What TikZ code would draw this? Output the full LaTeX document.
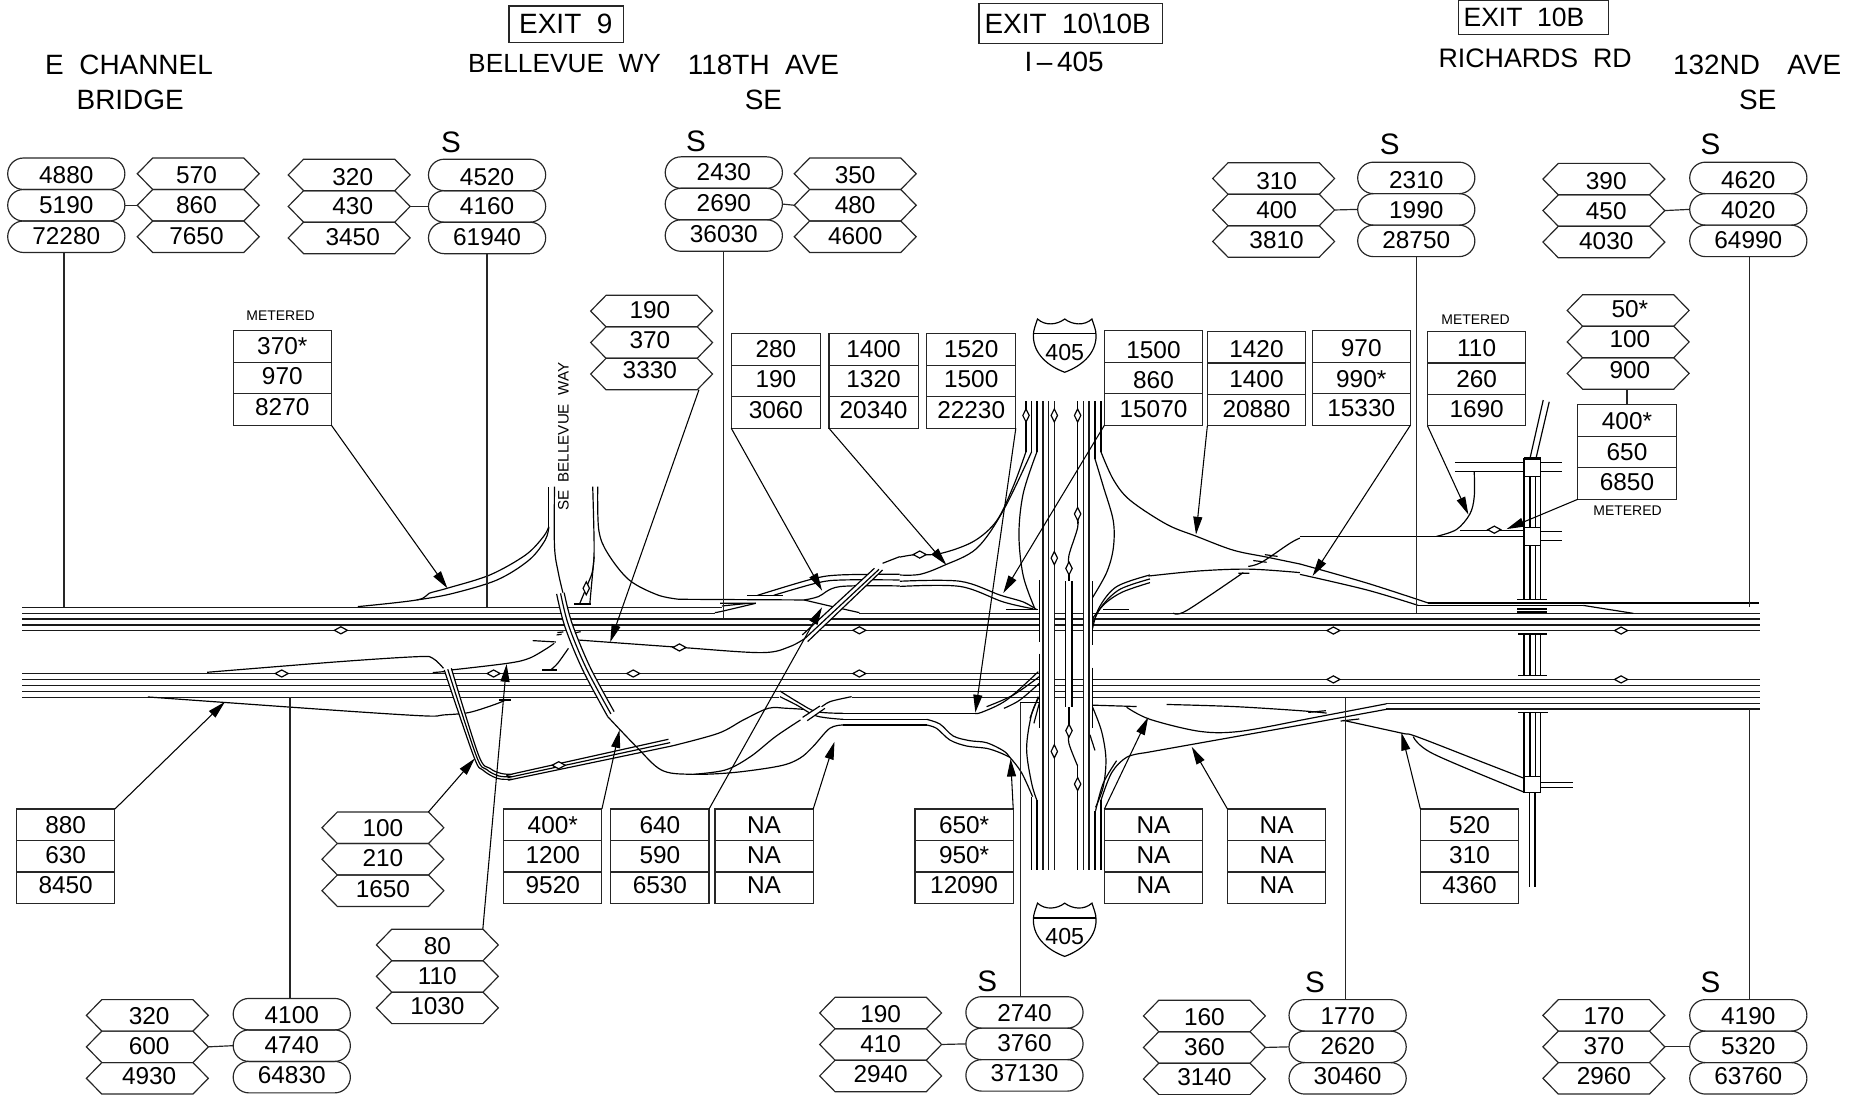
\documentclass[tikz,border=0pt]{standalone}
\usepackage{fontspec}
\setmainfont{Liberation Sans}
\usetikzlibrary{arrows.meta,shapes.misc,calc}
\tikzset{
 every path/.style={line width=0.5pt},
 cellbase/.style={draw=black!85,line width=0.5pt,inner sep=0pt,outer sep=0pt,minimum height=13.3pt,font=\fontsize{10.3}{12}\selectfont},
 boxcell/.style={cellbase,rectangle,minimum width=41.5pt},
 narrowcell/.style={cellbase,rectangle,minimum width=37.7pt},
 pillcell/.style={cellbase,rounded rectangle,minimum width=49.5pt},
 hexcell/.style={inner sep=0pt,outer sep=0pt,minimum height=13.3pt,minimum width=51.5pt,font=\fontsize{10.3}{12}\selectfont},
 hexline/.style={draw=black!85,line width=0.5pt},
 bigtext/.style={inner sep=0pt,font=\fontsize{11.8}{14}\selectfont},
 midtext/.style={inner sep=0pt,font=\fontsize{11.1}{14}\selectfont},
 smalltext/.style={inner sep=0pt,font=\fontsize{5.9}{7}\selectfont},
 sfont/.style={inner sep=0pt,font=\fontsize{12.5}{14}\selectfont},
 ar/.style={-{Triangle[length=7.5pt,width=3.8pt]},line width=0.45pt},
 lead/.style={line width=0.5pt,draw=black!85},
 road/.style={line width=0.5pt,draw=black},
 fwy/.style={line width=0.5pt,draw=black!90},
 zb/.style={shift={(287.2,371.7)},x=0.1508pt,y=-0.1408pt},
 zc/.style={shift={(760.3,253.4)},x=0.1408pt,y=-0.1458pt},
 zd/.style={shift={(1098.2,253.4)},x=0.1408pt,y=-0.1458pt},
 ze/.style={shift={(658.9,557.6)},x=0.1408pt,y=-0.1408pt},
 zf/.style={shift={(422.4,498.4)},x=0.1408pt,y=-0.1408pt},
 zg/.style={shift={(844.8,481.5)},x=0.1408pt,y=-0.1408pt},
}
% text offset inside a cell (positive = lower), box size unchanged
\newcommand\Tx[2]{\raisebox{\dimexpr -#1pt\relax}[\height][\depth]{#2}}
\newcommand\SetT[3]{\def\tyA{#1}\def\tyB{#2}\def\tyC{#3}}
\SetT{0.25}{-0.25}{-0.75}
\newcommand\StackThree[7]{%
 \node[#1] (#2a) at (#3,#4+13.3) {\Tx{\tyA}{#5}};
 \node[#1] (#2b) at (#3,#4+39.9) {\Tx{\tyB}{#6}};
 \node[#1] (#2c) at (#3,#4+66.5) {\Tx{\tyC}{#7}};
}
\newcommand\HexCell[2]{\draw[hexline] (#1-51.5,#2+13.3) -- (#1-38.5,#2) -- (#1+38.5,#2) -- (#1+51.5,#2+13.3) -- (#1+38.5,#2+26.6) -- (#1-38.5,#2+26.6) -- cycle;}
\newcommand\StackHex[7][0pt]{%
 \HexCell{#3}{#4}\HexCell{#3}{#4+26.6}\HexCell{#3}{#4+53.2}
 \node[hexcell] (#2a) at (#3,#4+13.3) {\hspace*{#1}\Tx{\tyA}{#5}};
 \node[hexcell] (#2b) at (#3,#4+39.9) {\hspace*{#1}\Tx{\tyB}{#6}};
 \node[hexcell] (#2c) at (#3,#4+66.5) {\hspace*{#1}\Tx{\tyC}{#7}};
}
\newcommand\DiaH[2]{\draw[road,fill=white] (#1-5.5,#2) -- (#1,#2-3) -- (#1+5.5,#2) -- (#1,#2+3) -- cycle;}
\newcommand\DiaV[2]{\draw[road,fill=white] (#1-2.7,#2) -- (#1,#2-5.5) -- (#1+2.7,#2) -- (#1,#2+5.5) -- cycle;}
\newcommand\Curve[1]{\draw[road] plot[smooth,tension=0.55] coordinates {#1};}
\newcommand\ShieldSign[3]{%
 \begin{scope}[shift={(#1,#2)}]
 \draw[road] (3.5,0) .. controls (10,6) and (20,5) .. (26.5,0) .. controls (33,5) and (43,6) .. (49.5,0) .. controls (51,5) and (53,9) .. (53,14) .. controls (53,30) and (40,40) .. (26.5,45) .. controls (13,40) and (0,30) .. (0,14) .. controls (0,9) and (2,5) .. (3.5,0) -- cycle;
 \draw[road] (0.3,12.5) -- (52.7,12.5);
 \node[inner sep=0pt,font=\fontsize{9.8}{12}\selectfont] (#3) at (26.5,28.5) {405};
 \end{scope}}
\begin{document}
\begin{tikzpicture}[x=0.5pt,y=-0.5pt]
\useasboundingbox (0,0) rectangle (1568,925);
% ---------- freeway mainline ----------
\draw[fwy] (19,513) -- (610,513);
\draw[fwy] (19,518) -- (604,518);
\draw[fwy] (726,518) -- (878,518);
\foreach \yy in {523,528,533,569,574,579,584} \draw[fwy] (19,\yy) -- (878,\yy);
\draw[fwy] (19,589) -- (658,589) (719.5,589) -- (878,589);
\foreach \yy in {518,523,528,533,574,579,584,589} {\draw[fwy] (923,\yy) -- (1487,\yy);}
\draw[fwy] (1171,594.5) -- (1487,594.5);
\draw[fwy] (1171,599) -- (1487,599);
\foreach \yy in {518,523,528,533,574,579,584,589} {\draw[fwy] (890.7,\yy) -- (900,\yy); \draw[fwy] (905.6,\yy) -- (915.2,\yy);}
% ---------- traced ramps, zoom B frame ----------
\begin{scope}[zb]
\Curve{(50,500)(215,480)(250,460)(300,445)(420,405)(520,345)(570,290)(585,260)}
\draw[road] (585,260) -- (585,140);
\Curve{(215,480)(310,462)(440,420)(530,360)(575,300)(585,262)}
\Curve{(601,140)(601,320)(612,400)(625,460)}
\Curve{(750,830)(830,920)(900,990)(980,1003)(1100,998)(1232,978)(1288,955)(1325,920)(1372,865)(1410,855)}
\Curve{(722,140)(725,270)(750,340)(810,420)(890,465)(950,478)}
\draw[road] (950,478) -- (1300,480);
\Curve{(1300,480)(1380,500)(1455,518)}
\Curve{(708,140)(712,320)(708,390)(695,430)(672,490)}
\Curve{(712,350)(706,420)(700,490)}
\draw[road] (655,492) -- (703,492);
\draw[road] (1070,498) -- (1145,490) (1065,490) -- (1165,490);
\Curve{(1050,518)(1070,514)(1165,490)}
\draw[road] (1140,466) -- (1240,466);
\Curve{(1170,466)(1320,418)(1400,405)(1568,403)}
\Curve{(1215,466)(1340,428)(1410,420)(1568,420)}
\Curve{(1300,480)(1340,470)(1400,440)(1568,438)}
\Curve{(665,600)(950,622)(1180,638)(1260,620)(1310,590)}
\Curve{(1520,370)(1568,350)}
% lower side ramps
\Curve{(-372,697)(0,665)(220,650)(260,655)(290,685)}
\draw[road] (260,698) -- (292,695);
\Curve{(312,690)(470,670)(530,655)(580,625)(600,610)}
\draw[road] (540,602) -- (605,606);
\Curve{(-538,771)(0,812)(240,828)(290,825)(360,818)(430,795)(465,780)}
\draw[road] (445,780) -- (480,780);
\Curve{(640,625)(610,670)(590,690)}
\draw[road] (567,690) -- (607,690);
% loop under
\Curve{(930,918)(1060,880)(1130,840)(1200,805)(1250,805)(1297,808)}
\Curve{(990,1003)(1080,990)(1150,950)(1220,890)(1290,840)}
% Bellevue Way over freeway
\fill[white] (607,462) -- (628,458) -- (650,550) -- (700,680) -- (768,815) -- (750,830) -- (680,690) -- (630,560) -- cycle;
\Curve{(607,462)(630,560)(680,690)(750,830)}
\Curve{(628,458)(650,550)(700,680)(768,815)}
\Curve{(618,460)(640,555)(690,685)(759,822)}
% E-W connector over
\fill[white] (292,690) -- (312,685) -- (388,945) -- (375,950) -- cycle;
\Curve{(292,690)(375,950)(400,990)(440,1015)(480,1018)(510,1012)(930,918)}
\Curve{(312,685)(388,945)(420,985)(450,1000)(480,1003)(500,998)(920,898)}
\Curve{(302,688)(382,948)(410,988)(445,1008)(480,1010)(505,1005)(925,908)}
% 118th ramp bridge
\fill[white] (1295,585) -- (1497,385) -- (1520,390) -- (1310,605) -- cycle;
\draw[road] (1295,585) -- (1497,385) (1310,605) -- (1520,390) (1303,595) -- (1510,388);
\end{scope}
% ---------- detail frames ----------
\begin{scope}[zf]
\draw[road] (172,128) -- (190,126) (170,135) -- (185,133) (225,129) -- (242,125);
\end{scope}
\begin{scope}[ze]
% crossing at bridge and lines on to I-405
\Curve{(0,93)(60,130)(110,155)(190,160)}
\draw[road] (190,160) -- (585,160);
\Curve{(585,160)(605,157)(680,120)(775,35)}
\Curve{(620,140)(700,105)(778,50)}
\Curve{(672,145)(720,120)(778,70)}
\Curve{(0,110)(50,135)(110,168)(190,178)}
\draw[road] (190,178) -- (440,178);
\Curve{(440,178)(480,192)(520,228)(570,242)(620,248)(670,272)(690,292)(725,338)(758,410)}
\draw[road] (190,195) -- (440,195);
\Curve{(440,195)(470,205)(510,240)(560,258)(620,265)(660,278)(690,292)}
\Curve{(120,145)(150,125)(215,110)}
\fill[white] (68,172) -- (120,138) -- (135,145) -- (82,182) -- cycle;
\draw[road] (68,172) -- (120,138) (82,182) -- (135,145);
\draw[road] (720,128) -- (778,128);
\draw[road] (750,175) -- (775,110) (762,190) -- (778,130);
\end{scope}
% ---------- I-405, zoom C frame ----------
\begin{scope}[zc]
\foreach \xx in {429,446,463,550,567} \draw[fwy] (\xx,293) -- (\xx,1652);
\draw[road] (378,293) -- (378,440);
\draw[road] (395,293) -- (395,440);
\draw[road] (411,293) -- (411,440);
\draw[road] (533,293) -- (533,650);
\draw[road] (585,293) -- (585,460);
\draw[road] (603,293) -- (603,440);
\draw[road] (533,1350) -- (533,1652);
\draw[road] (395,1440) -- (395,1652);
\draw[road] (411,1450) -- (411,1652);
\draw[road] (585,1480) -- (585,1652);
\draw[road] (603,1450) -- (603,1652);
% bridge edges
\draw[road] (419,812) -- (419,990) (419,1025) -- (419,1240);
\draw[road] (578,815) -- (578,1000) (578,1065) -- (578,1240);
\draw[road] (497,815) -- (497,1180) (516,815) -- (516,1180);
% median wiggle
\Curve{(533,620)(533,660)(507,740)(507,778)}
\draw[road] (507,778) -- (507,815);
\draw[road] (507,1180) -- (507,1248);
\Curve{(507,1248)(507,1285)(533,1350)}
% NW quadrant
\Curve{(0,745)(45,738)(120,735)(220,700)(290,640)(340,540)(378,440)}
\Curve{(0,797)(60,795)(130,770)(230,720)(310,610)(395,440)}
\Curve{(411,440)(370,560)(357,680)(370,800)(405,895)}
\Curve{(0,815)(180,815)(300,855)(370,875)(410,897)}
\Curve{(0,830)(180,830)(310,875)(400,895)}
\draw[road] (318,897) -- (415,897);
% NE quadrant
\Curve{(603,440)(640,520)(690,580)(800,650)(890,685)(1000,725)(1100,745)(1200,765)}
\Curve{(585,460)(610,540)(640,640)(640,720)(620,790)(578,862)}
\draw[road] (610,897) -- (688,897);
\Curve{(745,800)(900,785)(1050,780)(1200,790)}
\Curve{(820,907)(860,900)(1030,790)}
\draw[road] (1015,792) -- (1048,792) (1060,755) -- (1100,760) (1095,738) -- (1133,743);
\Curve{(1045,772)(1085,760)(1170,705)(1200,690)}
% SW quadrant
\Curve{(418,1150)(395,1200)(380,1300)(395,1400)(411,1450)}
% SE quadrant
\Curve{(578,1180)(605,1250)(618,1330)(610,1410)(587,1470)}
\draw[road] (570,1260) -- (585,1305);
\Curve{(735,1312)(680,1325)(635,1370)(603,1450)}
\Curve{(650,1335)(610,1400)(587,1480)}
\draw[road] (735,1312) -- (1200,1232);
\Curve{(680,1180)(750,1215)(900,1250)(1020,1250)(1200,1218)}
\draw[road] (578,1174) -- (710,1178);
\Curve{(800,1172)(1000,1178)(1200,1190)(1280,1197)}
\end{scope}
\begin{scope}[zg]
% three-line arc at the NE quadrant
\Curve{(278,175)(298,112)(350,50)(450,15)}
\Curve{(278,160)(306,108)(360,58)(450,27)}
\Curve{(278,145)(316,100)(368,66)(450,38)}
\end{scope}
% ---------- right side, zoom D frame ----------
\begin{scope}[zd]
\draw[road] (0,1218) -- (260,1170) (0,1232) -- (260,1186);
\draw[road] (25,1195) -- (78,1190) (122,1220) -- (178,1214);
\Curve{(130,1218)(305,1255)(350,1265)(550,1340)(670,1385)}
\Curve{(340,1265)(400,1315)(670,1425)}
\Curve{(0,765)(200,820)(385,878)}
\Curve{(0,795)(200,840)(355,885)}
\draw[road] (385,878) -- (1377,878);
\draw[road] (355,885) -- (850,885);
\draw[road] (850,885) -- (1000,908);
\draw[road] (0,685) -- (410,685);
\Curve{(410,685)(470,665)(510,620)(523,570)(523,498)}
\draw[road] (465,472) -- (672,472) (465,498) -- (672,498) (722,472) -- (785,472) (722,498) -- (785,498);
\draw[road] (480,667) -- (672,667) (410,685) -- (672,685);
\draw[road] (722,672) -- (785,672) (722,698) -- (785,698);
\foreach \xx in {672,690,706,722} {
 \draw[road] (\xx,512) -- (\xx,660);
 \draw[road] (\xx,712) -- (\xx,868);
 \draw[road] (\xx,968) -- (\xx,1088);
 \draw[road] (\xx,1195) -- (\xx,1380);}
\draw[road] (672,460) rectangle (722,512);
\draw[line width=1pt] (672,459) -- (722,459);
\draw[road] (672,660) rectangle (722,712);
\draw[road] (672,1380) rectangle (722,1427);
\draw[road] (652,868) -- (740,868) (655,968) -- (740,968) (655,1088) -- (740,1088) (655,1195) -- (743,1195);
\draw[line width=0.7pt] (652,895) -- (742,895) (652,905) -- (742,905);
\draw[road] (688,1427) -- (688,1700) (705,1427) -- (705,1700);
\draw[road] (723,1397) -- (820,1397) (723,1412) -- (820,1412);
\draw[road] (690,460) -- (730,290) (708,460) -- (748,295);
\end{scope}
% ---------- diamonds ----------
\DiaH{288}{532.5}\DiaH{238}{569}\DiaH{417}{569}\DiaH{535}{569}\DiaH{574}{547}\DiaH{472}{646.5}
\DiaH{726}{532.5}\DiaH{726}{569}\DiaH{777}{468.5}\DiaH{1126.5}{532.7}\DiaH{1369.5}{532.7}\DiaH{1126.5}{574}\DiaH{1369.5}{574}\DiaH{1262.4}{447.5}
\DiaV{866.8}{351}\DiaV{890.7}{351}\DiaV{910.4}{351}\DiaV{910.4}{434.2}\DiaV{890.7}{471.5}\DiaV{903.1}{480.2}\DiaV{903.1}{617.3}\DiaV{890.7}{634.8}\DiaV{910.4}{662.4}\DiaV{495.3}{497}
% ---------- headings ----------
\node[bigtext] (hA) at (109,55) {E\ \ CHANNEL};
\node[bigtext] (hB) at (110,84) {BRIDGE};
\draw[lead] (430,5) rectangle (527,36);
\node[bigtext] (hC) at (478,20.5) {EXIT\ \ 9};
\node[midtext] (hD) at (477,53.5) {BELLEVUE\ \ WY};
\node[bigtext] (hE) at (645,55) {118TH\ \ AVE};
\node[bigtext] (hF) at (645,84) {SE};
\draw[lead] (827,3) rectangle (982,37);
\node[bigtext] (hG) at (902,20) {EXIT\ \ 10\textbackslash 10B};
\node[bigtext] (hH) at (899,52) {I\,–\,405};
\draw[lead] (1232,0) rectangle (1359,29);
\node[inner sep=0pt,font=\fontsize{11.2}{14}\selectfont] (hI) at (1287.5,15) {EXIT\ \ 10B};
\node[inner sep=0pt,font=\fontsize{11.3}{14}\selectfont] (hJ) at (1297,49.5) {RICHARDS\ \ RD};
\node[bigtext] (hK) at (1484.5,55) {132ND\hspace{0.98em}AVE};
\node[bigtext] (hL) at (1485,84) {SE};
\node[sfont] (s1) at (381,120) {S};
\node[sfont] (s2) at (588,119) {S};
\node[sfont] (s3) at (1174,122) {S};
\node[sfont] (s4) at (1445,122) {S};
\node[sfont] (s5) at (834,829) {S};
\node[sfont] (s6) at (1111,830) {S};
\node[sfont] (s7) at (1445,830) {S};
\node[inner sep=0pt,rotate=90,font=\fontsize{6.4}{8}\selectfont] (sbw) at (476,369) {SE\ \ BELLEVUE\ \ WAY};
\ShieldSign{873}{269.5}{shA}
\ShieldSign{873}{763}{shB}
\node[smalltext] (m1) at (237,267) {METERED};
\node[smalltext] (m2) at (1246.6,270) {METERED};
\node[smalltext] (m3) at (1375,431.5) {METERED};
% ---------- count stacks ----------
\SetT{0.75}{0}{-0.4}
\StackThree{pillcell}{pa}{56}{133.5}{4880}{5190}{72280}
\StackHex[-1.5pt]{ha}{167.5}{133.5}{570}{860}{7650}
\StackHex[3pt]{hb}{295}{134.5}{320}{430}{3450}
\StackThree{pillcell}{pb}{411.5}{134.5}{4520}{4160}{61940}
\StackHex{hc}{722.5}{133.5}{350}{480}{4600}
\SetT{0}{-0.2}{-0.5}
\StackThree{pillcell}{pc}{611.5}{132.5}{2430}{2690}{36030}
\SetT{1}{0.15}{-0.5}
\StackHex[2.5pt]{hd}{1076}{137.5}{310}{400}{3810}
\StackThree{pillcell}{pd}{1196.5}{137}{2310}{1990}{28750}
\StackHex[2pt]{he}{1355}{138}{390}{450}{4030}
\StackThree{pillcell}{pe}{1477}{137}{4620}{4020}{64990}
\SetT{0}{-0.7}{-1.2}
\StackThree{boxcell}{ba}{238.5}{279.5}{370*}{970}{8270}
\StackThree{narrowcell}{bb}{655.5}{282}{280}{190}{3060}
\StackThree{narrowcell}{bc}{738}{282}{1400}{1320}{20340}
\StackThree{narrowcell}{bd}{820.5}{282}{1520}{1500}{22230}
\StackThree{boxcell}{bj}{55.5}{683.5}{880}{630}{8450}
\StackThree{boxcell}{bk}{467}{683.5}{400*}{1200}{9520}
\StackThree{boxcell}{bl}{557.5}{683.5}{640}{590}{6530}
\StackThree{boxcell}{bm}{645.5}{683.5}{NA}{NA}{NA}
\StackThree{boxcell}{bn}{814.5}{683.5}{650*}{950*}{12090}
\StackThree{boxcell}{bo}{974.5}{683.5}{NA}{NA}{NA}
\StackThree{boxcell}{bp}{1078.5}{683.5}{NA}{NA}{NA}
\StackThree{boxcell}{bq}{1241.5}{683.5}{520}{310}{4360}
\SetT{-0.4}{-1.2}{-1.5}
\StackHex[-1.5pt]{hf}{550.5}{249.5}{190}{370}{3330}
\StackHex[1.5pt]{hg}{1375.5}{249}{50*}{100}{900}
\SetT{1.5}{0.75}{0}
\StackThree{boxcell}{be}{974.5}{279.5}{1500}{860}{15070}
\SetT{0.85}{0.3}{-0.25}
\StackThree{boxcell}{bf}{1061.5}{280}{1420}{1400}{20880}
\SetT{0.7}{0.25}{-0.4}
\StackThree{boxcell}{bg}{1150}{279.5}{970}{990*}{15330}
\SetT{0.45}{0}{-0.6}
\StackThree{boxcell}{bh}{1247.5}{280}{110}{260}{1690}
\SetT{0.35}{0}{-0.75}
\StackThree{boxcell}{bi}{1374.5}{342}{400*}{650}{6850}
\SetT{0.35}{-0.3}{-0.75}
\StackHex{hh}{323.5}{686}{100}{210}{1650}
\StackHex{hi}{369.5}{785}{80}{110}{1030}
\StackHex[1.5pt]{hj}{124.5}{844.5}{320}{600}{4930}
\StackThree{pillcell}{pf}{246.5}{843.5}{4100}{4740}{64830}
\StackHex{hk}{744}{842.5}{190}{410}{2940}
\StackThree{pillcell}{pg}{865.5}{842}{2740}{3760}{37130}
\StackHex{hl}{1017.5}{845}{160}{360}{3140}
\StackThree{pillcell}{ph}{1138.5}{844.5}{1770}{2620}{30460}
\StackHex{hm}{1355}{844.5}{170}{370}{2960}
\StackThree{pillcell}{pi}{1477}{844.5}{4190}{5320}{63760}
% ---------- stack links ----------
\draw[lead] (pab.east) -- (hab.west);
\draw[lead] (hbb.east) -- (pbb.west);
\draw[lead] (pcb.east) -- (hcb.west);
\draw[lead] (hdb.east) -- (pdb.west);
\draw[lead] (heb.east) -- (peb.west);
\draw[lead] (hjb.east) -- (pfb.west);
\draw[lead] (hkb.east) -- (pgb.west);
\draw[lead] (hlb.east) -- (phb.west);
\draw[lead] (hmb.east) -- (pib.west);
\draw[lead] (hgc.south -| bia.north) -- (bia.north);
% ---------- count station leads ----------
\coordinate (l1) at (54,513);
\coordinate (l2) at (411.5,513);
\coordinate (l3) at (611,522.5);
\coordinate (l4) at (1197,517.5);
\coordinate (l5) at (1478,513);
\coordinate (l6) at (245,589);
\coordinate (l7) at (862,593.6);
\coordinate (l8) at (1137,590);
\coordinate (l9) at (1478,599);
\draw[lead] (pac.south -| l1) -- (l1);
\draw[lead] (pbc.south -| l2) -- (l2);
\draw[lead] (pcc.south -| l3) -- (l3);
\draw[lead] (pdc.south -| l4) -- (l4);
\draw[lead] (pec.south -| l5) -- (l5);
\draw[lead] (pfa.north -| l6) -- (l6);
\draw[lead] (pga.north -| l7) -- (l7);
\draw[lead] (pha.north -| l8) -- (l8);
\draw[lead] (pia.north -| l9) -- (l9);
% ---------- arrows ----------
\coordinate (t1) at (378,497);
\coordinate (t2) at (515.5,542.5);
\coordinate (t3) at (694.5,499);
\coordinate (t4) at (799.5,477.3);
\coordinate (t5) at (824,602);
\coordinate (t6) at (847.6,501);
\coordinate (t7) at (1010.4,451.6);
\coordinate (t8) at (1108.9,486.6);
\coordinate (t9) at (1240.5,434.7);
\coordinate (t10) at (1272.8,447);
\coordinate (t11) at (190,593);
\coordinate (t12) at (401.2,640.7);
\coordinate (t13) at (523.4,616.8);
\coordinate (t14) at (694.5,513);
\coordinate (t15) at (705,626.6);
\coordinate (t16) at (428,561);
\coordinate (t17) at (853.8,641);
\coordinate (t18) at (970,606);
\coordinate (t19) at (1006.8,631);
\coordinate (t20) at (1184,619);
\draw[ar] (bac.south east) -- (t1);
\draw[ar] ([xshift=20pt]hfc.south) -- (t2);
\draw[ar] (bbc.south west) -- (t3);
\draw[ar] (bcc.south west) -- (t4);
\draw[ar] (bdc.south east) -- (t5);
\draw[ar] (bec.south west) -- (t6);
\draw[ar] (bfc.south west) -- (t7);
\draw[ar] (bgc.south east) -- (t8);
\draw[ar] (bhc.south west) -- (t9);
\draw[ar] (bic.south west) -- (t10);
\draw[ar] (bja.north east) -- (t11);
\draw[ar] ([xshift=19.2pt]hha.north) -- (t12);
\draw[ar] (bka.north east) -- (t13);
\draw[ar] (bla.north east) -- (t14);
\draw[ar] (bma.north east) -- (t15);
\draw[ar] ([xshift=19.2pt]hia.north) -- (t16);
\draw[ar] (bna.north east) -- (t17);
\draw[ar] (boa.north west) -- (t18);
\draw[ar] (bpa.north west) -- (t19);
\draw[ar] (bqa.north west) -- (t20);
\end{tikzpicture}
\end{document}
